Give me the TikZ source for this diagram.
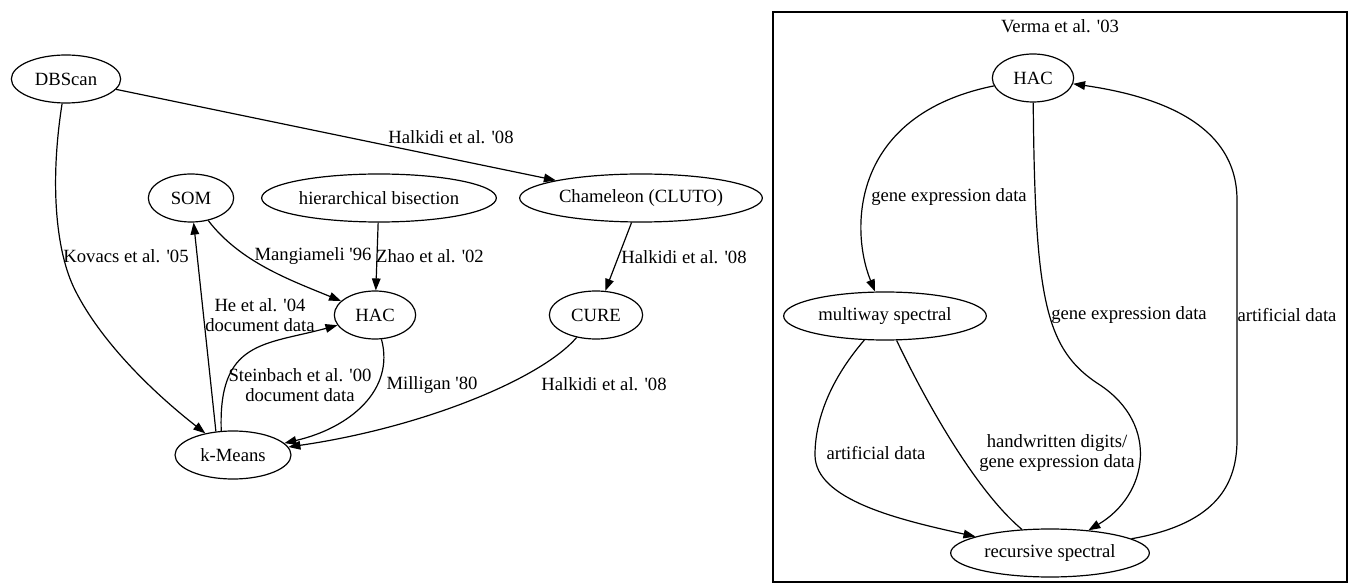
\documentclass[tikz,border=0pt]{standalone}
\usepackage{fontspec}
\setmainfont{Liberation Serif}[Ligatures=TeXOff]
\usetikzlibrary{arrows.meta, positioning, shapes.geometric}
\tikzset{%
	algo/.style={draw, ellipse, inner sep=0mm, minimum height=36pt, line width=0.9pt},
	link/.style={line width=0.9pt, -{Triangle[length=9pt, width=6.5pt]}},
	plainlink/.style={line width=0.9pt},
	edgelbl/.style={align=center, inner sep=0pt},
	cluster/.style={draw, rectangle, line width=0.9pt, inner sep=0pt}
}

\begin{document}
\begin{tikzpicture}[x=0.75pt, y=-0.75pt, font=\fontsize{14}{15.5}\selectfont]
	\useasboundingbox (0,0) rectangle (1349,584);

	% comparisons from the literature
	\node[algo, minimum width=82pt] (dbscan) at (66,79) {DBScan};
	\node[algo, minimum width=64pt] (som) at (191,198) {SOM};
	\node[algo, minimum width=176pt] (hbis) at (379,198) {hierarchical bisection};
	\node[algo, minimum width=182pt] (cham) at (641,198) {Chameleon (CLUTO)};
	\node[algo, minimum width=61pt] (hac) at (375,315) {HAC};
	\node[algo, minimum width=70pt] (cure) at (596,315) {CURE};
	\node[algo, minimum width=87pt] (kmeans) at (233,455) {k-Means};

	\draw[link] (dbscan) -- (cham) node[edgelbl] at (451,137) {Halkidi et al. '08};
	\draw[link] (dbscan) .. controls (50,180) and (55,250) .. (75,290)
		.. controls (100,340) and (150,390) .. (kmeans) node[edgelbl] at (126,256) {Kovacs et al. '05};
	\draw[link] (som) .. controls (240,262) and (290,280) .. (hac) node[edgelbl] at (313,256) {Mangiameli '96};
	\draw[link] (hbis) -- (hac) node[edgelbl] at (430,256) {Zhao et al. '02};
	\draw[link] (cham) -- (cure) node[edgelbl] at (684,257) {Halkidi et al. '08};
	\draw[link] (kmeans.126) -- (som) node[edgelbl] at (260,315) {He et al. '04\\document data};
	\draw[link] (kmeans.116) .. controls (218,340) and (265,345) .. (hac) node[edgelbl] at (300,385) {Steinbach et al. '00\\document data};
	\draw[link] (hac) .. controls (395,390) and (350,428) .. (kmeans) node[edgelbl] at (432,385) {Milligan '80};
	\draw[link] (cure) .. controls (540,380) and (420,428) .. (kmeans) node[edgelbl] at (604,384) {Halkidi et al. '08};

	% Verma et al.
	\node[cluster, minimum width=430.5pt, minimum height=427.5pt] (verma) at (1060,297) {};
	\node[edgelbl, below=6pt of verma.north] (vtitle) {Verma et al. '03};
	\node[algo, minimum width=61pt] (hacV) at (1033,78) {HAC};
	\node[algo, minimum width=152pt] (multi) at (885,316) {multiway spectral};
	\node[algo, minimum width=149pt] (recur) at (1050,553) {recursive spectral};

	\draw[link] (hacV) .. controls (850,115) and (850,230) .. (multi) node[edgelbl] at (949,197) {gene expression data};
	\draw[link] (hacV) .. controls (1035,300) and (1045,350) .. (1100,385)
		.. controls (1160,425) and (1148,495) .. (recur) node[edgelbl] at (1129,315) {gene expression data};
	\draw[link] (recur) .. controls (1210,525) and (1237,490) .. (1237,440) -- (1237,200)
		.. controls (1237,120) and (1150,95) .. (hacV) node[edgelbl] at (1287,315) {artificial data};
	\draw[link] (multi) .. controls (830,380) and (815,420) .. (815,455)
		.. controls (815,500) and (900,520) .. (recur) node[edgelbl] at (876,453) {artificial data};
	\draw[plainlink] (multi) .. controls (925,400) and (975,490) .. (recur) node[edgelbl] at (1057,453) {handwritten digits/\\gene expression data};
\end{tikzpicture}
\end{document}
